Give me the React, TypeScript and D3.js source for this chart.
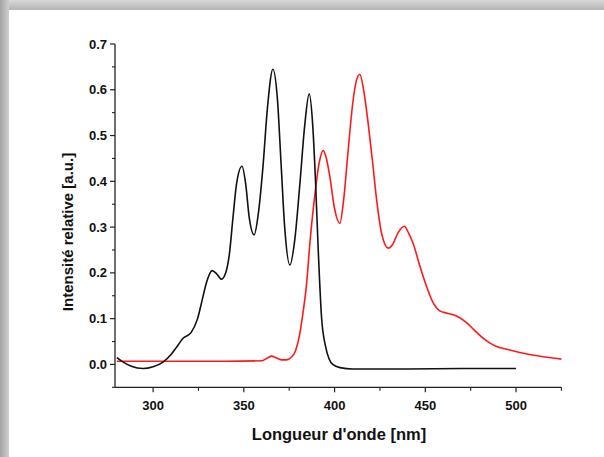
import React from "react";
import * as d3 from "d3";

const blackWl = [280, 284, 288, 294.5, 300, 305.5, 310, 313, 316.5, 321, 324.5, 327, 329.5, 332.5, 335, 337.7, 340, 342, 344, 346, 349, 351, 353, 355.7, 358, 360.5, 363, 366, 368.5, 370.5, 372.5, 375.4, 378, 381, 383.5, 386, 388, 389.5, 391, 392.8, 395, 397, 399, 403, 410, 440, 470, 500];
const blackVal = [0.015, 0.004, -0.004, -0.009, -0.005, 0.005, 0.022, 0.038, 0.057, 0.07, 0.1, 0.14, 0.18, 0.205, 0.198, 0.186, 0.2, 0.24, 0.32, 0.395, 0.433, 0.395, 0.32, 0.283, 0.33, 0.43, 0.56, 0.645, 0.58, 0.44, 0.3, 0.217, 0.27, 0.4, 0.52, 0.591, 0.52, 0.4, 0.25, 0.104, 0.04, 0.012, 0.0, -0.007, -0.01, -0.01, -0.009, -0.009];

const redWl = [280, 300, 320, 340, 360, 363, 365.3, 368, 371, 373.5, 376, 378.5, 380.5, 382.5, 384.6, 386.5, 389, 391.5, 393.7, 395.5, 397.4, 400, 402.9, 405, 407.5, 410, 412, 413.9, 416, 418.5, 421, 423.2, 426, 429.6, 432, 435, 438.4, 441, 443.3, 447, 450.7, 454, 458, 462, 465, 469, 473, 477, 481, 485, 489.3, 495, 500.3, 510, 518, 525];
const redVal = [0.007, 0.007, 0.007, 0.007, 0.008, 0.014, 0.018, 0.014, 0.01, 0.01, 0.015, 0.03, 0.06, 0.11, 0.177, 0.27, 0.366, 0.44, 0.467, 0.45, 0.41, 0.34, 0.308, 0.36, 0.468, 0.57, 0.62, 0.634, 0.6, 0.527, 0.44, 0.359, 0.285, 0.254, 0.262, 0.288, 0.302, 0.285, 0.264, 0.215, 0.17, 0.137, 0.117, 0.112, 0.109, 0.102, 0.09, 0.075, 0.06, 0.048, 0.039, 0.033, 0.0275, 0.02, 0.015, 0.0116];

const xMajorTicks = [300, 350, 400, 450, 500];
const xMinorTicks = [325, 375, 425, 475, 525];
const yMajorTicks = [0.0, 0.1, 0.2, 0.3, 0.4, 0.5, 0.6, 0.7];
const yMinorTicks = [-0.05, 0.05, 0.15, 0.25, 0.35, 0.45, 0.55, 0.65];

const xTitle = "Longueur d'onde [nm]";
const yTitle = "Intensité relative [a.u.]";

const W = 604;
const H = 457;
const font = "'Liberation Sans', Arial, sans-serif";

export default function App() {
  const x = d3.scaleLinear().domain([279, 525]).range([115, 561.4]);
  const y = d3.scaleLinear().domain([-0.05, 0.7]).range([387.3, 44]);

  const line = d3
    .line<[number, number]>()
    .x((d) => x(d[0]))
    .y((d) => y(d[1]))
    .curve(d3.curveMonotoneX);

  const blackPts = blackWl.map((w, i) => [w, blackVal[i]] as [number, number]);
  const redPts = redWl.map((w, i) => [w, redVal[i]] as [number, number]);

  const [x0, x1] = x.range();
  const [y0, y1] = y.range();
  const axisColor = "#222";

  return (
    <svg
      width={W}
      height={H}
      style={{ position: "absolute", left: 0, top: 0, display: "block" }}
      xmlns="http://www.w3.org/2000/svg"
    >
      <defs>
        <linearGradient id="topShadow" x1="0" y1="0" x2="0" y2="1">
          <stop offset="0" stopColor="#d8d8d8" />
          <stop offset="1" stopColor="#b4b4b4" />
        </linearGradient>
        <linearGradient id="leftShadow" x1="0" y1="0" x2="1" y2="0">
          <stop offset="0" stopColor="#a4a4a4" />
          <stop offset="1" stopColor="#cfcfcf" />
        </linearGradient>
      </defs>
      <rect x={0} y={0} width={W} height={H} fill="#ffffff" />
      <rect x={0} y={0} width={W} height={10} fill="url(#topShadow)" />
      <rect x={0} y={0} width={9} height={H} fill="url(#leftShadow)" />
      <rect x={9} y={10} width={W - 9} height={H - 10} fill="#ffffff" />

      {/* axes */}
      <line x1={x0} x2={x0} y1={y0} y2={y1} stroke={axisColor} strokeWidth={1.3} />
      <line x1={x0} x2={x1} y1={y0} y2={y0} stroke={axisColor} strokeWidth={1.3} />

      {yMajorTicks.map((t) => (
        <g key={"ym" + t}>
          <line x1={x0 - 5} x2={x0} y1={y(t)} y2={y(t)} stroke={axisColor} strokeWidth={1.2} />
          <text
            x={x0 - 8}
            y={y(t)}
            dy="0.35em"
            textAnchor="end"
            fontFamily={font}
            fontWeight="bold"
            fontSize={13}
            fill="#111"
          >
            {t.toFixed(1)}
          </text>
        </g>
      ))}
      {yMinorTicks.map((t) => (
        <line key={"yn" + t} x1={x0 - 3} x2={x0} y1={y(t)} y2={y(t)} stroke={axisColor} strokeWidth={1.1} />
      ))}

      {xMajorTicks.map((t) => (
        <g key={"xm" + t}>
          <line x1={x(t)} x2={x(t)} y1={y0} y2={y0 + 5} stroke={axisColor} strokeWidth={1.2} />
          <text
            x={x(t)}
            y={y0 + 23}
            textAnchor="middle"
            fontFamily={font}
            fontWeight="bold"
            fontSize={13}
            fill="#111"
          >
            {t}
          </text>
        </g>
      ))}
      {xMinorTicks.map((t) => (
        <line key={"xn" + t} x1={x(t)} x2={x(t)} y1={y0} y2={y0 + 3.5} stroke={axisColor} strokeWidth={1.1} />
      ))}

      <text
        x={339}
        y={440}
        textAnchor="middle"
        fontFamily={font}
        fontWeight="bold"
        fontSize={16.5}
        fill="#111"
      >
        {xTitle}
      </text>
      <text
        transform={`translate(73, 232) rotate(-90)`}
        textAnchor="middle"
        fontFamily={font}
        fontWeight="bold"
        fontSize={15}
        fill="#111"
      >
        {yTitle}
      </text>

      <path d={line(redPts) || ""} fill="none" stroke="#ff1a1a" strokeWidth={1.6} />
      <path d={line(blackPts) || ""} fill="none" stroke="#111" strokeWidth={1.6} />
    </svg>
  );
}
